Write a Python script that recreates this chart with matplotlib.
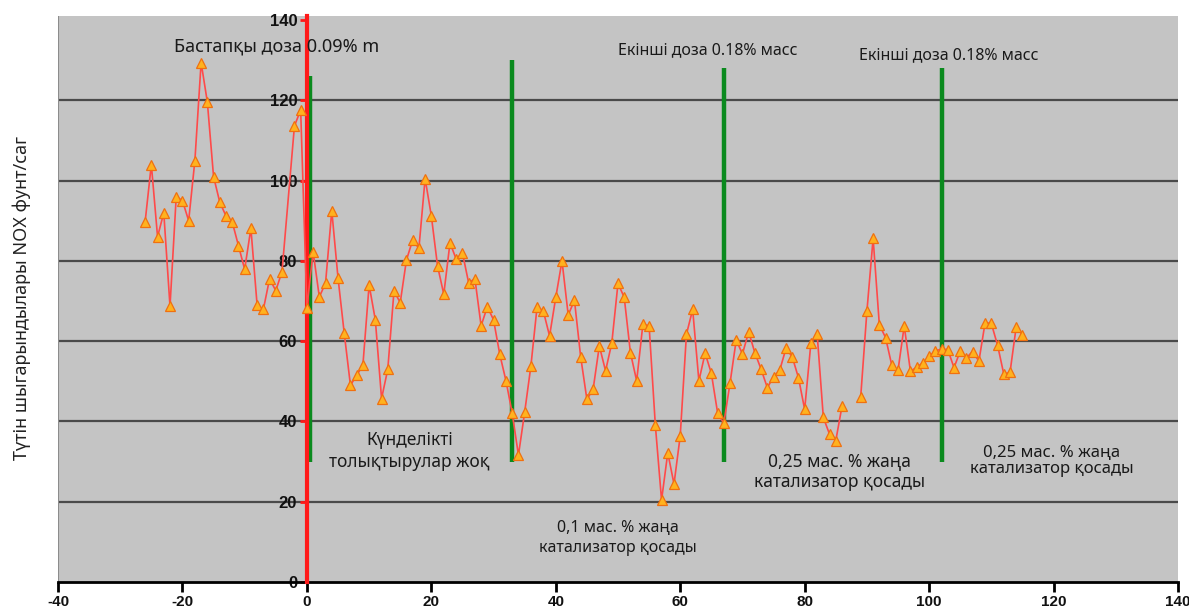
import numpy as np
import matplotlib
matplotlib.use("Agg")
import matplotlib.pyplot as plt

plt.rcParams["axes.unicode_minus"] = False

# Days relative to the start of dosing and NOx emissions (lb/h)
days = [-26, -25, -24, -23, -22, -21, -20, -19, -18, -17, -16, -15, -14, -13,
        -12, -11, -10, -9, -8, -7, -6, -5, -4, -2, -1,
        0, 1, 2, 3, 4, 5, 6, 7, 8, 9, 10, 11, 12, 13, 14, 15, 16, 17, 18, 19,
        20, 21, 22, 23, 24, 25, 26, 27, 28, 29, 30, 31, 32, 33, 34, 35, 36,
        37, 38, 39, 40, 41, 42, 43, 44, 45, 46, 47, 48, 49, 50, 51, 52, 53,
        54, 55, 56, 57, 58, 59, 60, 61, 62, 63, 64, 65, 66, 67, 68, 69, 70,
        71, 72, 73, 74, 75, 76, 77, 78, 79, 80, 81, 82, 83, 84, 85, 86, 87,
        88, 89, 90, 91, 92, 93, 94, 95, 96, 97, 98, 99, 100, 101, 102, 103,
        104, 105, 106, 107, 108, 109, 110, 111, 112, 113, 114, 115]
nox = [89.7, 104, 86, 92, 68.7, 96, 95, 90, 105, 129.4, 119.6, 101, 94.6, 91.2,
       89.7, 83.8, 77.9, 88.1, 69, 67.9, 75.5, 72.6, 77.3, 113.6, 117.6,
       68.3, 82.3, 71, 74.5, 92.5, 75.8, 62, 49, 51.5, 54, 74, 65.3, 45.7, 53,
       72.5, 69.6, 80.2, 85.2, 83.1, 100.5,
       91.2, 78.7, 71.7, 84.5, 80.4, 82, 74.5, 75.6, 63.8, 68.6, 65.3, 56.7,
       50.1, 42, 31.6, 42.3, 53.8,
       68.6, 67.5, 61.3, 70.9, 80, 66.5, 70.2, 56.1, 45.5, 48, 58.8, 52.6,
       59.5, 74.4, 70.9, 57.1, 50.1,
       64.2, 63.8, 39.1, 20.4, 32.2, 24.4, 36.4, 61.7, 67.9, 50.1, 57, 52,
       42.2, 39.5, 49.5, 60.3, 56.8,
       62.3, 57.1, 53, 48.4, 51.1, 52.8, 58.2, 56.1, 50.9, 43, 59.5, 61.9, 41,
       36.8, 35.2, 43.8, np.nan,
       np.nan, 46, 67.4, 85.6, 64.1, 60.9, 54, 52.7, 63.8, 52.5, 53.5, 54.6,
       56.2, 57.6, 58, 57.9,
       53.4, 57.5, 55.9, 57.4, 55, 64.6, 64.4, 59, 51.8, 52.2, 63.6, 61.5]

# Event markers (day, lower and upper end of the vertical bar)
event_days = [0.55, 33, 67, 102]
event_low = [30, 30, 30, 30]
event_high = [126, 130, 128, 128]

x_ticks = [-40, -20, 0, 20, 40, 60, 80, 100, 120, 140]
y_ticks = [0, 20, 40, 60, 80, 100, 120, 140]

ylabel = "Түтін шыгарындылары NOX фунт/саг"

text_font = ["Noto Sans", "DejaVu Sans"]
num_font = ["Liberation Sans Narrow", "Liberation Sans", "DejaVu Sans"]

fig = plt.figure(figsize=(11.89, 6.14), dpi=100)
ax = fig.add_axes([58 / 1189, 32 / 614, 1120 / 1189, 566 / 614])
ax.set_facecolor("#c4c4c4")
ax.set_xlim(-40, 140)
ax.set_ylim(0, 141)

# Horizontal grid lines
for yv in y_ticks[1:-1]:
    ax.axhline(yv, color="#4a4a4a", lw=1.6, zorder=1)
ax.axvline(-40, color="#8c8c8c", lw=1.5, zorder=1)

# Spines: y axis at day 0 in red, x axis at zero in black
for side in ("top", "right"):
    ax.spines[side].set_visible(False)
ax.spines["left"].set_position(("data", 0))
ax.spines["left"].set_color("#ff1a1a")
ax.spines["left"].set_linewidth(3)
ax.spines["left"].set_zorder(4)
ax.spines["bottom"].set_color("black")
ax.spines["bottom"].set_linewidth(2)

ax.set_xticks(x_ticks)
ax.set_yticks(y_ticks)
ax.tick_params(axis="x", direction="out", length=7, width=2, color="black",
               pad=2)
ax.tick_params(axis="y", direction="out", length=5, width=2,
               color="#ff1a1a", pad=2)
for lab in ax.get_xticklabels():
    lab.set_fontfamily(num_font)
    lab.set_fontweight("bold")
    lab.set_fontsize(11)
    lab.set_color("#111111")
for lab in ax.get_yticklabels():
    lab.set_fontfamily(num_font)
    lab.set_fontweight("bold")
    lab.set_fontsize(12)
    lab.set_color("#111111")

# Dosing events
ax.vlines(event_days, event_low, event_high, colors="#0a8a1e", lw=3.2,
          zorder=3)

# Emission series
ax.plot(days, nox, color="#ff4a4a", lw=1.2, marker="^", markersize=6.5,
        markerfacecolor="#ffb21e", markeredgecolor="#f07010",
        markeredgewidth=0.9, zorder=5)

# Annotations
ax.text(-4.8, 133.5, "Бастапқы доза 0.09% m", ha="center", va="center",
        fontsize=13, family=text_font, color="#1a1a1a", zorder=6)
ax.text(64.5, 132.5, "Екінші доза 0.18% масс", ha="center", va="center",
        fontsize=11.5, family=text_font, color="#1a1a1a", zorder=6)
ax.text(103.2, 131.3, "Екінші доза 0.18% масс", ha="center", va="center",
        fontsize=11.5, family=text_font, color="#1a1a1a", zorder=6)
ax.text(16.5, 32.6, "Күнделікті\nтолықтырулар жоқ", ha="center",
        va="center", fontsize=12.5, family=text_font, color="#1a1a1a",
        linespacing=1.25, zorder=6)
ax.text(50, 11, "0,1 мас. % жаңа\nкатализатор қосады", ha="center",
        va="center", fontsize=11.5, family=text_font, color="#1a1a1a",
        linespacing=1.3, zorder=6)
ax.text(85.6, 27.4, "0,25 мас. % жаңа\nкатализатор қосады", ha="center",
        va="center", fontsize=12.5, family=text_font, color="#1a1a1a",
        linespacing=1.2, zorder=6)
ax.text(119.7, 30.1, "0,25 мас. % жаңа\nкатализатор қосады", ha="center",
        va="center", fontsize=12, family=text_font, color="#1a1a1a",
        linespacing=1.05, zorder=6)

fig.text(22 / 1189, 1 - 298 / 614, ylabel, rotation=90, ha="center",
         va="center", fontsize=13, family=text_font, color="#222222")

fig.savefig("out.png", dpi=100)
